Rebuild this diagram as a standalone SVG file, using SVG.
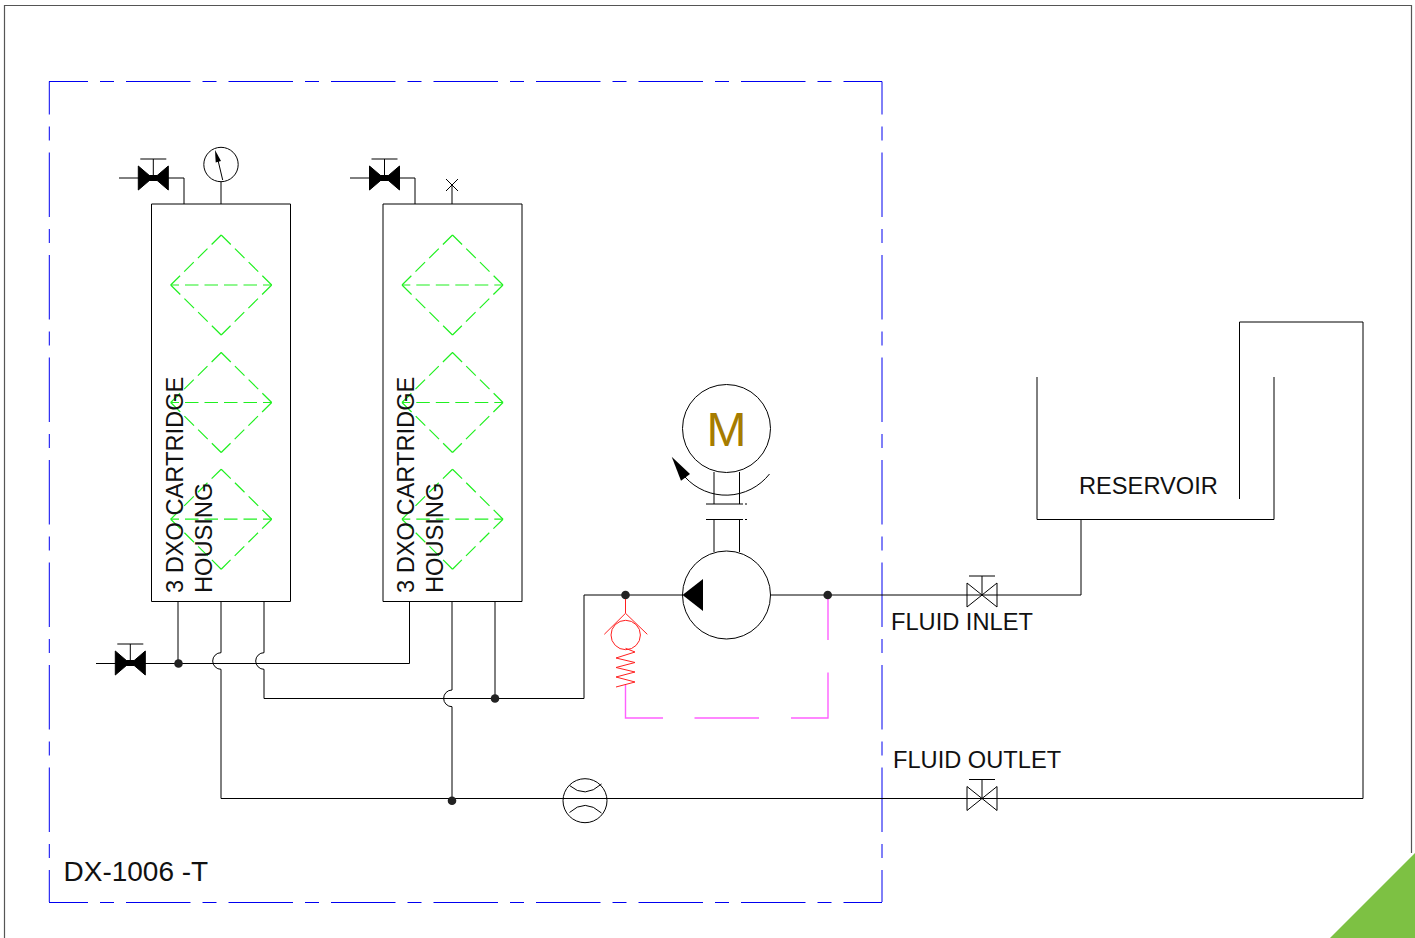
<svg xmlns="http://www.w3.org/2000/svg" width="1415" height="938" viewBox="0 0 1415 938">
<style>
text{font-family:"Liberation Sans",Arial,sans-serif;font-size:23.65px;fill:#111}
.l{fill:none;stroke:#000;stroke-width:1}
.g{fill:none;stroke:#20f020;stroke-width:1.2;stroke-dasharray:13.5 5.8}
.gc{fill:none;stroke:#20f020;stroke-width:1.2;stroke-dasharray:13.500 6;stroke-dashoffset:5.2}
.b{fill:none;stroke:#0000f0;stroke-width:1;stroke-dasharray:64.5 12 14 12}
.k{fill:#000;stroke:none}
.j{fill:#222;stroke:none}
.r{fill:none;stroke:#ff2020;stroke-width:1}
.p{fill:none;stroke:#ff60ff;stroke-width:1.4}
</style>
<defs>
<g id="solidValve"><path class="l" d="M-13 -19H13M0 -19V0"/><path d="M-15 -12L-1 0L-15 12ZM15 -12L1 0L15 12Z" fill="#000" stroke="#000" stroke-width="1"/><rect x="-4" y="-3" width="8" height="6" fill="#000"/></g>
<g id="openValve"><path class="l" d="M-13 -19H13M0 -19V0M-15 -12L15 12V-12L-15 12Z"/></g>
<g id="cartridge"><path class="g" d="M0 -50L-50.500 0M0 -50L50.500 0M-50.500 0L0 50M50.500 0L0 50"/><path class="gc" d="M-50.500 0H50.500"/></g>
</defs>
<rect width="1415" height="938" fill="#fff"/>
<path id="frame" fill="none" stroke="#555" stroke-width="1.2" d="M4.500 938V5.500H1411.500V853"/>
<polygon id="corner" fill="#7dc143" points="1415,853 1415,938 1330,938"/>
<g id="boundary">
<path class="b" stroke-dashoffset="25.5" d="M49 81.500H882"/>
<path class="b" stroke-dashoffset="31.5" d="M882 81.500V902"/>
<path class="b" stroke-dashoffset="31.5" d="M49.300 81.500V902"/>
<path class="b" stroke-dashoffset="25.5" d="M49 902.500H882"/>
</g>
<g id="connectors">
<path class="l" d="M119 178H184V204"/>
<path class="l" d="M350 178H415V204"/>
<path class="l" d="M221 204V182"/>
<path class="l" d="M452 204V186"/>
<path class="l" d="M96 663.500H409.500V601"/>
<path class="l" d="M178 601V663"/>
<path class="l" d="M221 601V652.700A8.300 8.300 0 0 0 221 669.300V798.500H1363V322H1239.500V499"/>
<path class="l" d="M264 601V652.700A8.300 8.300 0 0 0 264 669.300V698.500H584V595H683"/>
<path class="l" d="M452 601V690A8.300 8.300 0 0 0 452 706.700V799"/>
<path class="l" d="M495 601V698"/>
<path class="l" d="M771 595H1081V520"/>
<path class="l" d="M1037 377V519.500H1274V377"/>
<path class="p" d="M828 595V640M828 672.500V718H791M759 718H694.500M663 718H625.500V685"/>
</g>
<g id="junctions">
<circle class="j" cx="178.500" cy="663.500" r="4.300"/>
<circle class="j" cx="495" cy="698.500" r="4.300"/>
<circle class="j" cx="452" cy="800.700" r="4.300"/>
<circle class="j" cx="625.500" cy="595" r="4.300"/>
<circle class="j" cx="827.700" cy="595" r="4.300"/>
</g>
<g id="housing-1">
<path class="l" d="M151.500 204H290.500V601.500H151.500Z"/>
<use href="#cartridge" x="221.200" y="285"/><use href="#cartridge" x="221.200" y="402.500"/><use href="#cartridge" x="221.200" y="519.200"/>
<text transform="translate(183 593) rotate(-90)">3 DXO CARTRIDGE</text>
<text transform="translate(212 593) rotate(-90)">HOUSING</text>
</g>
<g id="housing-2">
<path class="l" d="M383 204H522V601.500H383Z"/>
<use href="#cartridge" x="452.500" y="285"/><use href="#cartridge" x="452.500" y="402.500"/><use href="#cartridge" x="452.500" y="519.200"/>
<text transform="translate(414 593) rotate(-90)">3 DXO CARTRIDGE</text>
<text transform="translate(443 593) rotate(-90)">HOUSING</text>
</g>
<use id="valve-1" href="#solidValve" x="153.300" y="178"/>
<use id="valve-2" href="#solidValve" x="384.500" y="178"/>
<use id="valve-3" href="#solidValve" x="130.300" y="663"/>
<g id="gauge"><circle cx="221" cy="164.500" r="17.200" fill="#fff" stroke="#000" stroke-width="1"/><path class="l" d="M222.700 180L217 156"/><path class="k" d="M215 150L221 161L215.700 162.500Z"/></g>
<g id="vent"><path class="l" d="M446 179L458 191M458 179L446 191"/></g>
<g id="motor">
<circle cx="726.500" cy="428.500" r="44" fill="#fff" stroke="#000" stroke-width="1"/>
<text x="726.500" y="445.500" text-anchor="middle" style="font-size:48px;fill:#a67c00">M</text>
<path class="l" d="M714 472V504M739.500 472V504M706 504H743M745 504H747M706 519.500H743M745 519.500H747M714 519.500V552M739.500 519.500V552"/>
<path class="l" d="M769.500 474A55.300 55.300 0 0 1 685 477"/>
<path class="k" d="M671.700 456.700L690 474L681 480.700Z"/>
</g>
<g id="pump">
<circle cx="726.500" cy="595" r="44" fill="#fff" stroke="#000" stroke-width="1"/>
<path class="k" d="M682.500 595L703 579V611Z"/>
</g>
<g id="relief-valve">
<path class="r" d="M625.500 599V613.300M604.300 634.300L625.500 613.300L647.300 634.300"/>
<circle class="r" cx="625.700" cy="635" r="14.700"/>
<path class="r" d="M625.500 648.300L635 652L616 658L635 662.500L616 667.500L635 672L616 677L635 682L616 687"/>
</g>
<use id="inlet-valve" href="#openValve" x="982" y="595"/>
<use id="outlet-valve" href="#openValve" x="982" y="798.500"/>
<g id="flowmeter"><circle cx="585" cy="800.700" r="22" fill="#fff" stroke="#000" stroke-width="1"/><path class="l" d="M569.500 785.500Q585 799 601.500 784"/><path class="l" d="M569.500 812.500Q585 798 601.500 813"/><path class="l" d="M563 798.500H607"/></g>
<text x="891" y="629.500">FLUID INLET</text>
<text x="893" y="768">FLUID OUTLET</text>
<text x="1079" y="494">RESERVOIR</text>
<text x="63.500" y="880.700" style="font-size:28px">DX-1006 -T</text>
</svg>
